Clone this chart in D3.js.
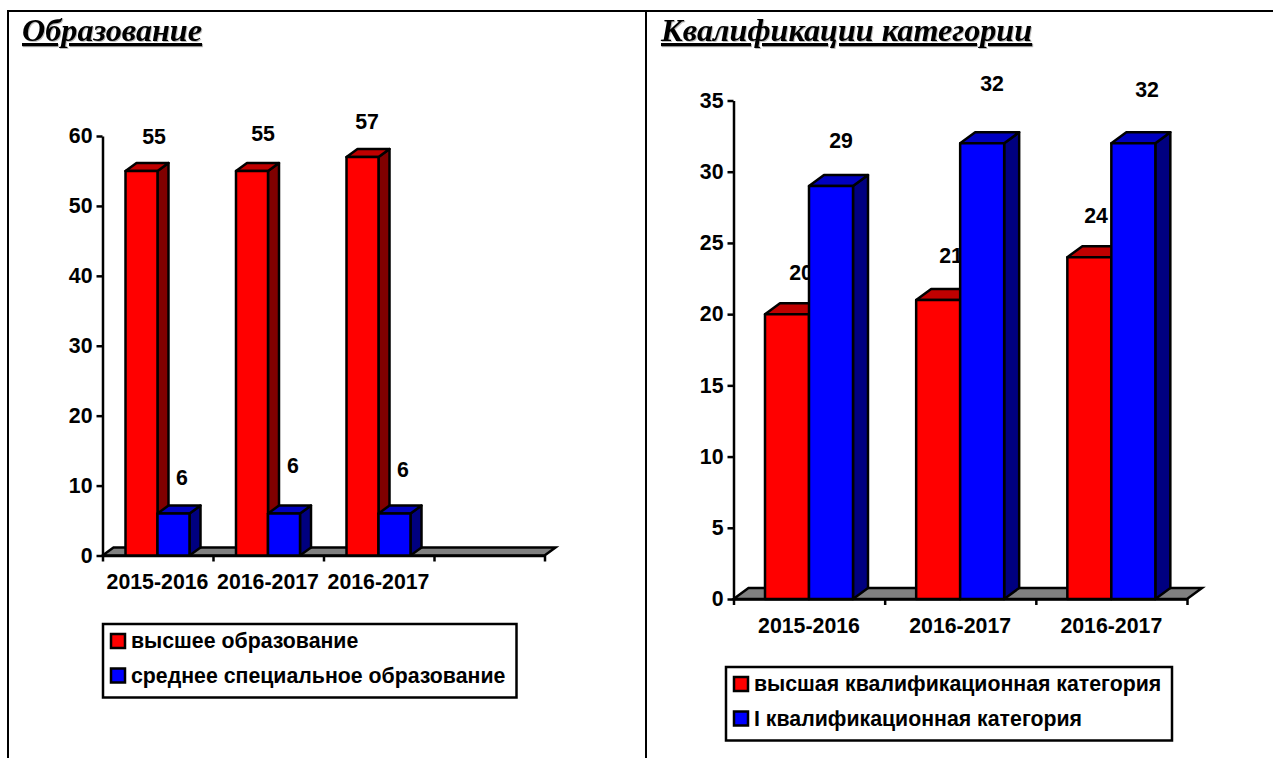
<!DOCTYPE html>
<html lang="ru">
<head>
<meta charset="utf-8">
<script src="https://cdnjs.cloudflare.com/ajax/libs/d3/7.8.5/d3.min.js"></script>
<style>
  body { margin: 0; background: #fff; }
  svg { display: block; }
  text { font-family: "Liberation Sans", Arial, sans-serif; font-weight: bold; fill: #000; }
  .title {
    font-family: "Liberation Serif", "Times New Roman", serif;
    font-style: italic;
    font-size: 32.2px;
    text-decoration: underline;
    text-decoration-thickness: 3px;
    filter: drop-shadow(1px 1px 0 #bbb);
  }
  .axis path, .axis line { stroke: #000; stroke-width: 2.5; }
</style>
</head>
<body>
<div class="display"></div>
<script>
const WIDTH = 1273;
const HEIGHT = 758;
const FONT_SIZE = 21.3;
const STROKE = 2.5;

const RED = { front: '#ff0000', top: '#c00000', side: '#800000' };
const BLUE = { front: '#0000ff', top: '#0000c0', side: '#000080' };

// left chart
const EDU_TITLE = 'Образование';
const EDU_YEARS = ['2015-2016', '2016-2017', '2016-2017', ''];
const EDU_HIGHER = [55, 55, 57];
const EDU_SPECIAL = [6, 6, 6];
const EDU_LEGEND = ['высшее образование', 'среднее специальное образование'];
const EDU_TICKS = [0, 10, 20, 30, 40, 50, 60];

// right chart
const QUAL_TITLE = 'Квалификации категории';
const QUAL_YEARS = ['2015-2016', '2016-2017', '2016-2017'];
const QUAL_TOP = [20, 21, 24];
const QUAL_FIRST = [29, 32, 32];
const QUAL_LEGEND = ['высшая квалификационная категория', 'I квалификационная категория'];
const QUAL_TICKS = [0, 5, 10, 15, 20, 25, 30, 35];

const svg = d3.select('.display')
  .append('svg')
  .attr('width', WIDTH)
  .attr('height', HEIGHT);

function drawFrame() {
  const lines = [[7, 11, WIDTH, 11], [8, 11, 8, HEIGHT], [646, 11, 646, HEIGHT]];
  svg.selectAll('.frame')
    .data(lines)
    .enter()
    .append('line')
    .attr('class', 'frame')
    .attr('x1', d => d[0])
    .attr('y1', d => d[1])
    .attr('x2', d => d[2])
    .attr('y2', d => d[3])
    .attr('stroke', '#000')
    .attr('stroke-width', 2);
}

function drawBar(g, x0, x1, y0, y1, dx, dy, colors) {
  const poly = (pts, fill) => g.append('polygon')
    .attr('points', pts.map(p => p.join(',')).join(' '))
    .attr('fill', fill)
    .attr('stroke', '#000')
    .attr('stroke-width', STROKE)
    .attr('stroke-linejoin', 'round');

  poly([[x1, y1], [x1 + dx, y1 - dy], [x1 + dx, y0 - dy], [x1, y0]], colors.side);
  poly([[x0, y1], [x0 + dx, y1 - dy], [x1 + dx, y1 - dy], [x1, y1]], colors.top);
  poly([[x0, y1], [x1, y1], [x1, y0], [x0, y0]], colors.front);
}

function drawChart(c) {
  const x = d3.scaleLinear()
    .domain([0, c.years.length])
    .range([c.left, c.right]);

  const y = d3.scaleLinear()
    .domain([0, c.maxY])
    .range([c.bottom, c.top]);

  svg.append('text')
    .attr('class', 'title')
    .attr('x', c.titleX)
    .attr('y', 41)
    .text(c.title);

  // Floor
  svg.append('polygon')
    .attr('points', [
      [c.left, c.bottom],
      [c.left + c.dx, c.bottom - c.dy],
      [c.right + c.dx, c.bottom - c.dy],
      [c.right, c.bottom]
    ].map(p => p.join(',')).join(' '))
    .attr('fill', '#808080')
    .attr('stroke', '#000')
    .attr('stroke-width', STROKE);

  // Axes
  svg.append('g')
    .attr('class', 'axis')
    .attr('transform', `translate(${c.left}, 0)`)
    .call(d3.axisLeft(y).tickValues(c.ticks).tickSize(6).tickSizeOuter(0).tickPadding(4))
    .selectAll('text')
    .style('font-size', `${FONT_SIZE}px`)
    .style('font-family', '"Liberation Sans", Arial, sans-serif');

  svg.append('g')
    .attr('class', 'axis')
    .attr('transform', `translate(0, ${c.bottom})`)
    .call(d3.axisBottom(x).tickValues(d3.range(c.years.length + 1)).tickSize(6).tickSizeOuter(0).tickFormat(''));

  // Category labels
  svg.selectAll(null)
    .data(c.years)
    .enter()
    .append('text')
    .attr('x', (d, i) => x(i) + c.inset + c.barWidth)
    .attr('y', c.bottom + c.labelGap)
    .attr('text-anchor', 'middle')
    .style('font-size', `${FONT_SIZE}px`)
    .text(d => d);

  // Bars, the value labels of the first series stay under the second series
  const bars = svg.append('g');
  c.series[0].forEach((v, i) => {
    const x0 = x(i) + c.inset;
    drawBar(bars, x0, x0 + c.barWidth, y(0), y(v), c.dx, c.dy, RED);
    bars.append('text')
      .attr('x', c.labelPos[0][i][0])
      .attr('y', c.labelPos[0][i][1])
      .attr('text-anchor', 'middle')
      .style('font-size', `${FONT_SIZE}px`)
      .text(v);
  });
  c.series[1].forEach((v, i) => {
    const x0 = x(i) + c.inset + c.barWidth;
    drawBar(bars, x0, x0 + c.barWidth, y(0), y(v), c.dx, c.dy, BLUE);
    bars.append('text')
      .attr('x', c.labelPos[1][i][0])
      .attr('y', c.labelPos[1][i][1])
      .attr('text-anchor', 'middle')
      .style('font-size', `${FONT_SIZE}px`)
      .text(v);
  });

  // Legend
  const lg = svg.append('g');
  lg.append('rect')
    .attr('x', c.legend.x)
    .attr('y', c.legend.y)
    .attr('width', c.legend.w)
    .attr('height', c.legend.h)
    .attr('fill', '#fff')
    .attr('stroke', '#000')
    .attr('stroke-width', STROKE);

  c.legendNames.forEach((name, i) => {
    const rowY = c.legend.y + 10 + i * 34.5;
    lg.append('rect')
      .attr('x', c.legend.x + 8)
      .attr('y', rowY)
      .attr('width', 14)
      .attr('height', 14)
      .attr('fill', i === 0 ? RED.front : BLUE.front)
      .attr('stroke', '#000')
      .attr('stroke-width', STROKE);
    lg.append('text')
      .attr('x', c.legend.x + 28)
      .attr('y', rowY + 14)
      .style('font-size', `${FONT_SIZE}px`)
      .text(name);
  });
}

drawFrame();

drawChart({
  title: EDU_TITLE, titleX: 22,
  years: EDU_YEARS, series: [EDU_HIGHER, EDU_SPECIAL], ticks: EDU_TICKS, legendNames: EDU_LEGEND,
  maxY: 60, left: 102.5, right: 544.5, top: 136, bottom: 555.5,
  inset: 23, barWidth: 32, dx: 11, dy: 8, labelGap: 33,
  labelPos: [
    [[154, 144], [263, 141], [367, 129]],
    [[182, 485], [293, 473], [403, 477]]
  ],
  legend: { x: 103, y: 624, w: 413.5, h: 73.5 }
});

drawChart({
  title: QUAL_TITLE, titleX: 661,
  years: QUAL_YEARS, series: [QUAL_TOP, QUAL_FIRST], ticks: QUAL_TICKS, legendNames: QUAL_LEGEND,
  maxY: 35, left: 733.5, right: 1187, top: 100.5, bottom: 599,
  inset: 31.5, barWidth: 44, dx: 15, dy: 11, labelGap: 34,
  labelPos: [
    [[801, 280], [951, 263], [1096, 223]],
    [[841, 148], [992, 91], [1147, 97]]
  ],
  legend: { x: 726, y: 667, w: 446, h: 73.5 }
});
</script>
</body>
</html>
